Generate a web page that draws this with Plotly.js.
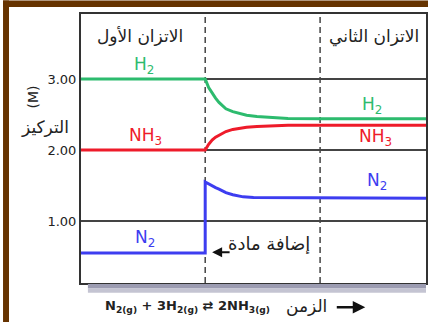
<!DOCTYPE html>
<html>
<head>
<meta charset="utf-8">
<script src="https://cdn.plot.ly/plotly-3.0.1.min.js"></script>
<style>
html,body{margin:0;padding:0;background:#fff;}
#chart{width:428px;height:322px;}
</style>
</head>
<body>
<div id="chart"></div>
<script>
// time axis (arbitrary units 0..100), disturbance at 36, second equilibrium marker at 69.3
const disturbTimes = [36, 69.3];

const timeH2  = [0, 36, 37, 38, 39, 40, 41, 42, 44, 46, 48, 51, 55, 60, 70, 100];
const concH2  = [3.00, 3.00, 2.88, 2.80, 2.73, 2.67, 2.62, 2.58, 2.54, 2.51, 2.49, 2.47, 2.455, 2.445, 2.44, 2.44];

const timeNH3 = [0, 36, 37, 38, 39, 40, 41, 42, 44, 46, 48, 51, 55, 60, 70, 100];
const concNH3 = [2.00, 2.00, 2.08, 2.14, 2.18, 2.21, 2.24, 2.26, 2.29, 2.31, 2.32, 2.33, 2.34, 2.35, 2.35, 2.35];

const timeN2  = [0, 36, 36, 37, 38, 39, 40, 42, 44, 47, 50, 55, 60, 100];
const concN2  = [0.55, 0.55, 1.55, 1.52, 1.49, 1.47, 1.45, 1.40, 1.37, 1.34, 1.33, 1.33, 1.32, 1.32];

const tickVals  = [1, 2, 3];
const tickTexts = ['1.00', '2.00', '3.00'];

const cH2 = '#2dbb6e', cNH3 = '#ee1b2a', cN2 = '#3d3df0';
const ar = 'DejaVu Sans, sans-serif';

const traces = [
  {x: timeH2, y: concH2, mode: 'lines', line: {color: cH2, width: 3}, name: 'H2'},
  {x: timeNH3, y: concNH3, mode: 'lines', line: {color: cNH3, width: 3}, name: 'NH3'},
  {x: timeN2, y: concN2, mode: 'lines', line: {color: cN2, width: 3}, name: 'N2'}
];

const shapes = disturbTimes.map(t => ({
  type: 'line', xref: 'x', yref: 'paper', x0: t, x1: t, y0: 0, y1: 1,
  line: {color: '#444', width: 1.5, dash: '6px,4px'}, layer: 'below'
}));
// brown frame (top and left)
shapes.push({type: 'rect', xref: 'paper', yref: 'paper', x0: -0.226, x1: 1.01, y0: 1.026, y1: 1.05,
  fillcolor: '#663300', line: {width: 0}});
shapes.push({type: 'rect', xref: 'paper', yref: 'paper', x0: -0.226, x1: -0.2087, y0: -0.15, y1: 1.05,
  fillcolor: '#663300', line: {width: 0}});
// shadow under plot
shapes.push({type: 'rect', xref: 'paper', yref: 'paper', x0: 0.02, x1: 1.0, y0: -0.02, y1: -0.004,
  fillcolor: '#9c9cb2', line: {width: 0}});
shapes.push({type: 'rect', xref: 'paper', yref: 'paper', x0: 0.02, x1: 1.0, y0: -0.036, y1: -0.02,
  fillcolor: '#c4c4d2', line: {width: 0}});

const ann = (x, y, text, color, size, extra) => Object.assign({
  x: x, y: y, xref: 'x', yref: 'y', text: text, showarrow: false,
  xanchor: 'center', yanchor: 'middle',
  font: {family: ar, size: size, color: color}
}, extra || {});

const pann = (x, y, text, size, extra) => Object.assign({
  x: x, y: y, xref: 'paper', yref: 'paper', text: text, showarrow: false,
  xanchor: 'center', yanchor: 'middle',
  font: {family: ar, size: size, color: '#222'}
}, extra || {});

const annotations = [
  ann(17.1, 3.61, 'الاتزان الأول', '#222', 17),
  ann(84.9, 3.60, 'الاتزان الثاني', '#222', 17),
  ann(18.3, 3.19, 'H<sub>2</sub>', cH2, 17),
  ann(18.8, 2.19, 'NH<sub>3</sub>', cNH3, 17),
  ann(18.6, 0.76, 'N<sub>2</sub>', cN2, 17),
  ann(84.3, 2.63, 'H<sub>2</sub>', cH2, 17),
  ann(85.5, 2.18, 'NH<sub>3</sub>', cNH3, 17),
  ann(85.8, 1.55, 'N<sub>2</sub>', cN2, 17),
  ann(54.5, 0.69, 'إضافة مادة', '#222', 18),
  {x: 38.0, y: 0.56, xref: 'x', yref: 'y', ax: 19, ay: 0, text: '', showarrow: true,
   arrowhead: 2, arrowsize: 1, arrowwidth: 2, arrowcolor: '#111'},
  pann(-0.104, 0.58, 'التركيز', 17),
  pann(-0.139, 0.69, '(M)', 14, {textangle: -90}),
  pann(0.310, -0.086, 'N<sub>2(g)</sub> + 3H<sub>2(g)</sub> ⇄ 2NH<sub>3(g)</sub>', 13,
       {font: {family: ar, size: 13, color: '#222', weight: 'bold'}}),
  pann(0.655, -0.086, 'الزمن', 17),
  {x: 0.824, y: -0.09, xref: 'paper', yref: 'paper', ax: -30, ay: 0, text: '', showarrow: true,
   arrowhead: 2, arrowsize: 1, arrowwidth: 2.5, arrowcolor: '#111'}
];

const layout = {
  width: 428, height: 322,
  margin: {l: 81, r: 2, t: 14, b: 39, pad: 0},
  paper_bgcolor: '#fff', plot_bgcolor: '#fff',
  showlegend: false,
  xaxis: {range: [0, 100], showgrid: false, zeroline: false, showticklabels: false, ticks: '',
          showline: true, mirror: true, linecolor: '#333', linewidth: 2},
  yaxis: {range: [0.127, 3.915], tickvals: tickVals, ticktext: tickTexts, showgrid: true,
          gridcolor: '#444', gridwidth: 1.5, zeroline: false, ticks: '',
          showline: true, mirror: true, linecolor: '#333', linewidth: 2,
          tickfont: {family: 'DejaVu Sans, sans-serif', size: 13, color: '#222'}},
  shapes: shapes,
  annotations: annotations
};

Plotly.newPlot('chart', traces, layout, {displayModeBar: false, staticPlot: true});
</script>
</body>
</html>
